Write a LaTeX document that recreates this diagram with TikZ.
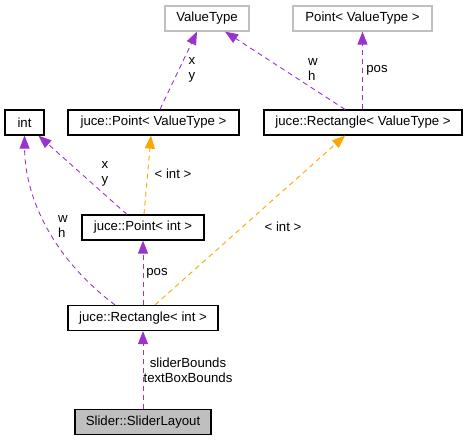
\documentclass[tikz,border=0pt]{standalone}
\usepackage{fontspec}
\setmainfont{Liberation Sans}
\usetikzlibrary{arrows.meta}
\definecolor{dpurple}{HTML}{9A32CD}
\definecolor{dorange}{HTML}{FFA500}
\definecolor{lgrey}{HTML}{BFBFBF}
\begin{document}
\begin{tikzpicture}[x=1pt,y=-1pt,
  every node/.style={font=\fontsize{13.2}{15}\selectfont, inner sep=0pt, align=center},
  cls/.style={draw=black, line width=1.2pt, fill=white, minimum height=25pt},
  ext/.style={draw=lgrey, line width=1.2pt, fill=white, minimum height=25pt},
  cur/.style={draw=black, line width=1.2pt, fill=lgrey, minimum height=25pt},
  uses/.style={draw=dpurple, line width=0.9pt, dash pattern=on 5pt off 4pt, -{Triangle[length=13pt,width=10pt,fill=dpurple]}},
  tmpl/.style={draw=dorange, line width=0.9pt, dash pattern=on 5pt off 4pt, -{Triangle[length=13pt,width=10pt,fill=dorange]}},
  lbl/.style={align=left}]
\useasboundingbox (0,0) rectangle (468,441);
\node[ext, minimum width=84pt] (vt) at (207,18.5) {ValueType};
\node[ext, minimum width=139pt] (pvg) at (362.5,18.5) {Point\textless{} ValueType \textgreater{}};
\node[cls, minimum width=39pt] (int) at (24.5,122.5) {int};
\node[cls, minimum width=171pt] (pvt) at (153.5,122.5) {juce::Point\textless{} ValueType \textgreater{}};
\node[cls, minimum width=198pt] (rvt) at (363,122.5) {juce::Rectangle\textless{} ValueType \textgreater{}};
\node[cls, minimum width=122pt] (pint) at (143,227.5) {juce::Point\textless{} int \textgreater{}};
\node[cls, minimum width=150pt] (rint) at (143,318) {juce::Rectangle\textless{} int \textgreater{}};
\node[cur, minimum width=136pt] (sl) at (143,422) {Slider::SliderLayout};

\draw[uses] ([xshift=6.5pt]pvt.north) -- ([xshift=-10pt]vt.south);
\draw[uses] ([xshift=-18pt]rvt.north) -- ([xshift=18pt]vt.south);
\draw[uses] (pvg.south |- rvt.north) -- (pvg.south);
\draw[uses] ([xshift=-16pt]pint.north) -- ([xshift=14pt]int.south);
\draw[uses] ([xshift=-28pt]rint.north) .. controls (55,260) and (25,200) .. (int.south);
\draw[tmpl] ([xshift=1pt]pint.north) -- ([xshift=-2.5pt]pvt.south);
\draw[tmpl] ([xshift=12pt]rint.north) -- ([xshift=-18pt]rvt.south);
\draw[uses] (rint.north) -- (pint.south);
\draw[uses] (sl.north) -- (rint.south);

\node[lbl] (l1) at (192,70) {x\\y};
\node[lbl] (l2) at (313,70) {w\\h};
\node (l3) at (377,70) {pos};
\node[lbl] (l4) at (105,174) {x\\y};
\node (l5) at (173,174) {\textless{} int \textgreater{}};
\node[lbl] (l6) at (63,227) {w\\h};
\node (l7) at (283,227) {\textless{} int \textgreater{}};
\node (l8) at (157,273) {pos};
\node (l9) at (188,370) {sliderBounds\\textBoxBounds};
\end{tikzpicture}
\end{document}
